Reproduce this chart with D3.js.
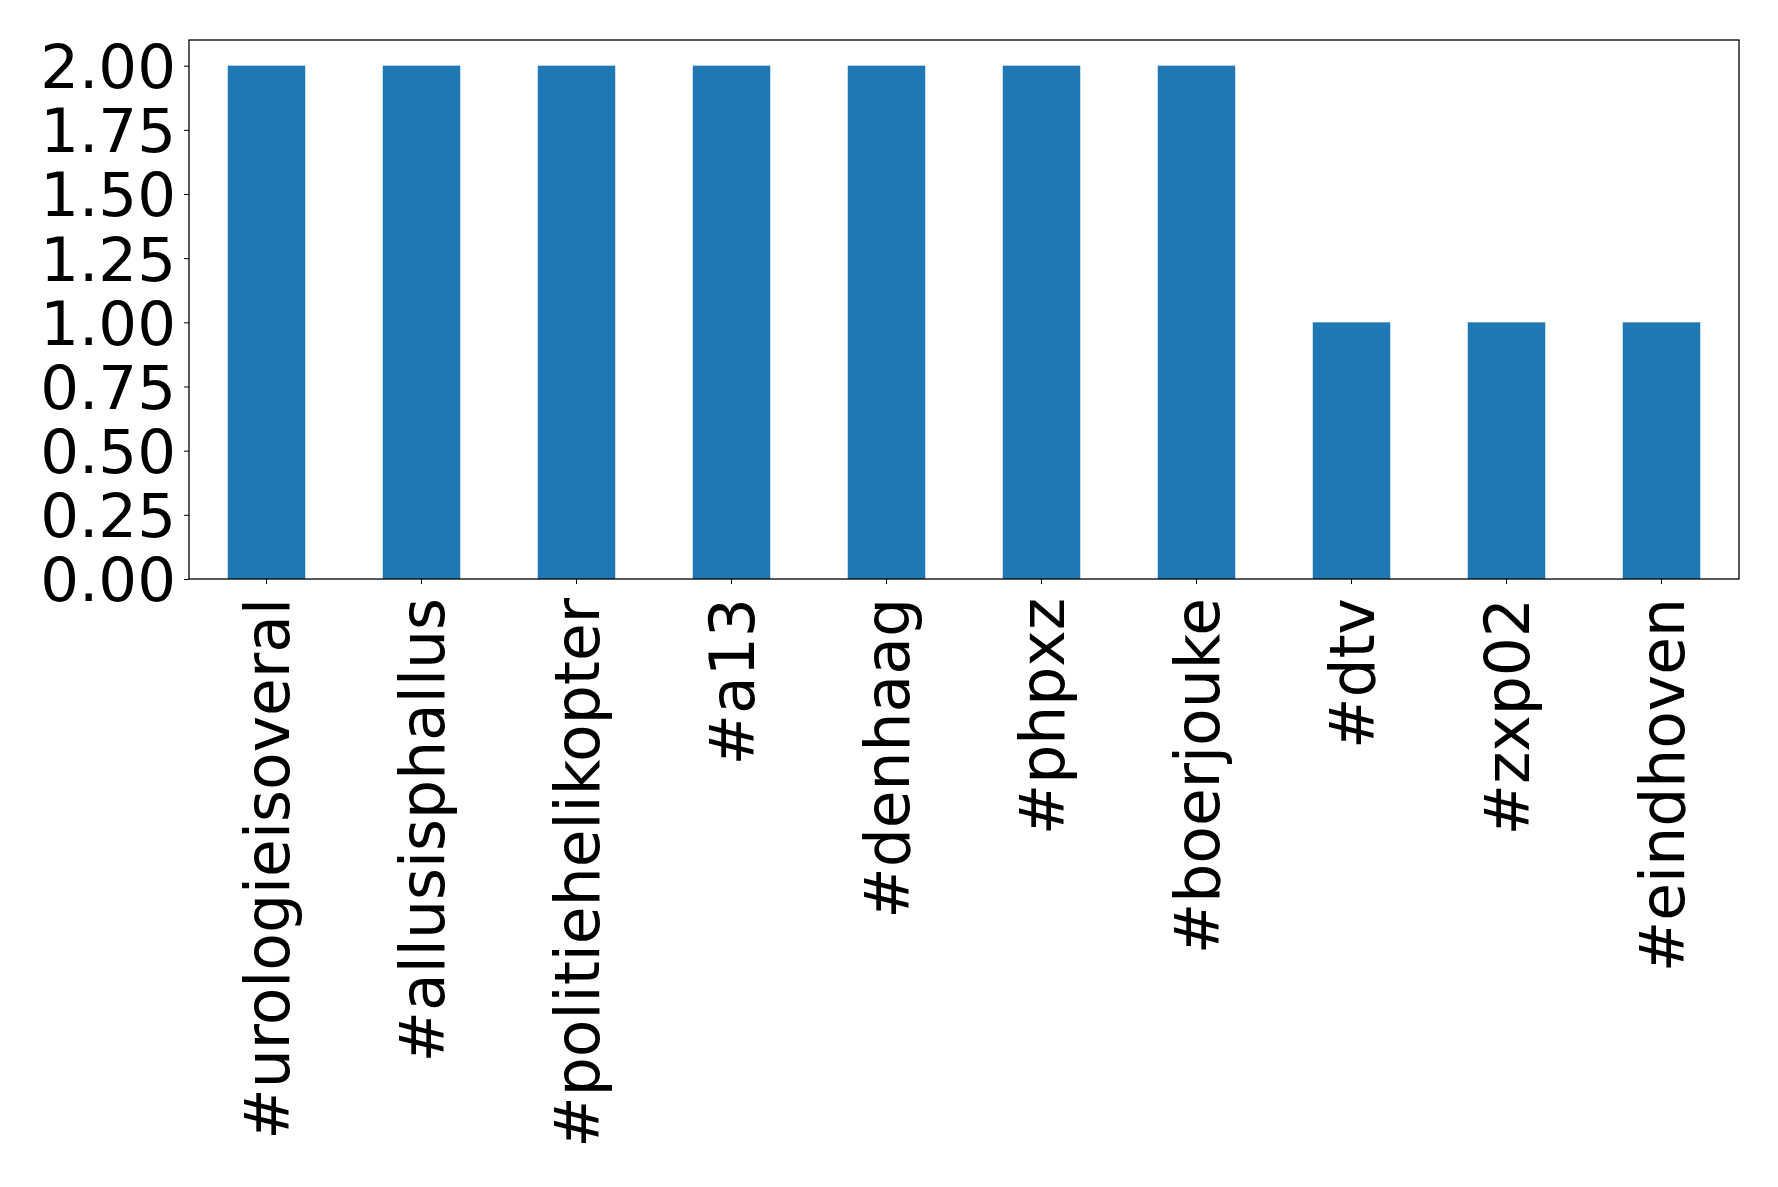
<!DOCTYPE html>
<html><head><meta charset="utf-8">
<script src="https://cdn.jsdelivr.net/npm/d3@7"></script>
<style>body{margin:0;background:#fff}svg{display:block}</style>
</head><body>
<script>
const categories = ["#urologieisoveral","#allusisphallus","#politiehelikopter","#a13","#denhaag","#phpxz","#boerjouke","#dtv","#zxp02","#eindhoven"];
const values = [2,2,2,2,2,2,2,1,1,1];
const yTicks = [0,0.25,0.5,0.75,1,1.25,1.5,1.75,2];

const W=1778,H=1187;
const m={left:189,right:1739,top:40,bottom:579};
const svg=d3.select("body").append("svg").attr("width",W).attr("height",H);
const x=d3.scaleBand().domain(categories).range([m.left,m.right]).paddingInner(0.5).paddingOuter(0.25);
const y=d3.scaleLinear().domain([0,2.1]).range([m.bottom,m.top]);
const font="DejaVu Sans";

svg.selectAll("rect.bar").data(values).enter().append("rect")
 .attr("x",(d,i)=>x(categories[i])).attr("width",x.bandwidth())
 .attr("y",d=>y(d)).attr("height",d=>y(0)-y(d)).attr("fill","#1f77b4");

const ya=svg.append("g").attr("transform",`translate(${m.left},0)`)
 .call(d3.axisLeft(y).tickValues(yTicks).tickFormat(d3.format(".2f")).tickSize(5).tickPadding(8));
ya.select(".domain").remove();
ya.selectAll("text").attr("font-family",font).attr("font-size",61).attr("fill","#000").attr("dy","0.36em");
ya.selectAll("line").attr("stroke","#000");

const xa=svg.append("g").attr("transform",`translate(0,${m.bottom})`)
 .call(d3.axisBottom(x).tickSize(5).tickPadding(8));
xa.select(".domain").remove();
xa.selectAll("line").attr("stroke","#000");
xa.selectAll("text").attr("font-family",font).attr("font-size",61.5).attr("fill","#000")
 .attr("text-anchor","end").attr("transform","rotate(-90)").attr("x",-19).attr("y",0).attr("dy","0.36em");

svg.append("rect").attr("x",m.left).attr("y",m.top).attr("width",m.right-m.left).attr("height",m.bottom-m.top)
 .attr("fill","none").attr("stroke","#000").attr("stroke-width",1.3);
</script>
</body></html>
